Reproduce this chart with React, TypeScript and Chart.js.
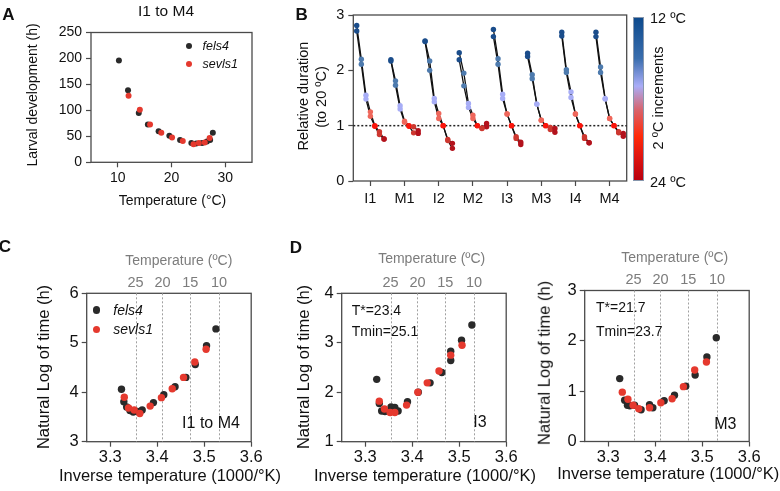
import React, { useEffect, useRef } from 'react';
import { Chart, registerables } from 'chart.js';

Chart.register(...registerables);

const FONT = '"Liberation Sans", Arial, Helvetica, sans-serif';
const AXIS = '#4a4a4a';
const BLACK_PT = '#2a2a2a';
const RED_PT = '#e5392e';

// ---------- Panel A: larval development (h) vs temperature (°C), I1 to M4 ----------
const aFels4Temp = [10.2, 11.9, 13.9, 15.6, 17.6, 19.6, 21.6, 23.7, 24.6, 25.7, 26.6, 27.2, 27.7];
const aFels4Hours = [196, 139, 95, 73, 60, 51, 43, 37, 36, 37, 40, 43, 57];
const aSevls1Temp = [12.0, 14.1, 16.0, 18.1, 20.1, 22.1, 24.1, 25.1, 26.2, 27.1];
const aSevls1Hours = [128, 101, 73, 57, 48, 41, 35, 37, 38, 47];
const aXTicks = [10, 20, 30];

// ---------- Panel B: relative duration (to 20 °C) per stage ----------
const bStages = ['I1', 'M1', 'I2', 'M2', 'I3', 'M3', 'I4', 'M4'];
const bTemps = [12, 14, 16, 18, 20, 22, 24];
const bTempColors = ['#1b4d8b', '#4e7bae', '#a7adf6', '#ef675b', '#fb150b', '#cd3830', '#b3121c'];
const bRep1 = [
  [2.81, 2.2, 1.55, 1.25, 1.0, 0.89, 0.76],
  [2.19, 1.81, 1.36, 1.08, 1.0, 0.98, 0.91],
  [2.53, 2.17, 1.49, 1.22, 1.0, 0.75, 0.68],
  [2.32, 1.95, 1.4, 1.19, 1.0, 0.96, 1.04],
  [2.74, 2.21, 1.57, 1.21, 1.0, 0.8, 0.7],
  [2.31, 1.92, 1.39, 1.1, 1.0, 0.97, 0.95],
  [2.69, 2.01, 1.61, 1.21, 1.0, 0.8, 0.69],
  [2.69, 2.06, 1.49, 1.13, 1.0, 0.89, 0.86],
];
const bRep2 = [
  [2.71, 2.11, 1.48, 1.17, 0.99, 0.84, 0.76],
  [2.17, 1.73, 1.3, 1.06, 0.99, 0.87, 0.86],
  [2.52, 2.0, 1.43, 1.13, 1.0, 0.73, 0.59],
  [2.19, 1.72, 1.33, 1.13, 1.0, 0.95, 0.98],
  [2.61, 2.11, 1.49, 1.21, 1.0, 0.77, 0.66],
  [2.25, 1.85, 1.39, 1.1, 1.0, 0.93, 0.88],
  [2.62, 1.96, 1.51, 1.21, 1.0, 0.77, 0.69],
  [2.61, 1.96, 1.48, 1.13, 1.0, 0.87, 0.81],
];
const bYTicks = [0, 1, 2, 3];

// ---------- Panel C: ln(time) vs inverse temperature, I1 to M4 ----------
const cFels4X = [3.324, 3.329, 3.335, 3.342, 3.349, 3.358, 3.368, 3.392, 3.414, 3.438, 3.461, 3.481, 3.505, 3.525];
const cFels4Y = [4.06, 3.81, 3.7, 3.63, 3.6, 3.61, 3.64, 3.79, 3.95, 4.11, 4.3, 4.56, 4.94, 5.28];
const cSevls1X = [3.33, 3.339, 3.351, 3.363, 3.385, 3.409, 3.432, 3.456, 3.48, 3.504];
const cSevls1Y = [3.9, 3.68, 3.64, 3.57, 3.72, 3.89, 4.07, 4.3, 4.61, 4.87];

// ---------- Panel D (left): I3 ----------
const dI3Fels4X = [3.3245, 3.33, 3.335, 3.342, 3.355, 3.363, 3.37, 3.39, 3.413, 3.438, 3.463, 3.482, 3.482, 3.505, 3.527];
const dI3Fels4Y = [2.26, 1.77, 1.62, 1.61, 1.7, 1.69, 1.62, 1.81, 2.0, 2.19, 2.4, 2.83, 2.64, 3.05, 3.36];
const dI3Sevls1X = [3.33, 3.341, 3.353, 3.363, 3.388, 3.412, 3.432, 3.457, 3.482, 3.506];
const dI3Sevls1Y = [1.82, 1.66, 1.59, 1.59, 1.74, 2.0, 2.19, 2.43, 2.75, 2.95];

// ---------- Panel D (right): M3 ----------
const dM3Fels4X = [3.3245, 3.335, 3.341, 3.346, 3.356, 3.37, 3.388, 3.395, 3.419, 3.441, 3.465, 3.485, 3.51, 3.53];
const dM3Fels4Y = [1.25, 0.82, 0.72, 0.71, 0.72, 0.63, 0.73, 0.67, 0.81, 0.92, 1.1, 1.32, 1.68, 2.06];
const dM3Sevls1X = [3.33, 3.342, 3.353, 3.365, 3.388, 3.412, 3.436, 3.46, 3.484, 3.509];
const dM3Sevls1Y = [0.98, 0.84, 0.72, 0.65, 0.67, 0.77, 0.85, 1.09, 1.42, 1.58];

const invXTicks = [3.3, 3.4, 3.5, 3.6];
const topTemps = [25, 20, 15, 10];

// ---------- layout (page pixels) ----------
const W = 780;
const H = 491;
type Area = { l: number; t: number; r: number; b: number };
const areaA: Area = { l: 91, t: 32.5, r: 252, b: 162.3 };
const areaB: Area = { l: 353.3, t: 15, r: 626.7, b: 181 };
const areaC: Area = { l: 86.7, t: 293.3, r: 251.2, b: 441.7 };
const areaD1: Area = { l: 341.7, t: 293.3, r: 506.2, b: 441.7 };
const areaD2: Area = { l: 584.7, t: 290.5, r: 749.2, b: 441.5 };
const bOffsets = [-0.4, -0.265, -0.13, 0, 0.13, 0.265, 0.4];

const zip = (xs: number[], ys: number[]) => xs.map((x, i) => ({ x, y: ys[i] }));
const invT = (t: number) => 1000 / (t + 273.15);

const boxPlugin = {
  id: 'box',
  beforeDatasetsDraw(chart: any) {
    const { ctx, chartArea: a } = chart;
    ctx.save();
    ctx.strokeStyle = AXIS;
    ctx.lineWidth = 1.3;
    ctx.strokeRect(a.left, a.top, a.right - a.left, a.bottom - a.top);
    ctx.restore();
  },
};

const tempLinesPlugin = {
  id: 'tempLines',
  beforeDatasetsDraw(chart: any) {
    const { ctx, chartArea: a, scales } = chart;
    ctx.save();
    ctx.strokeStyle = '#a0a0a0';
    ctx.lineWidth = 1;
    ctx.setLineDash([2, 2]);
    topTemps.forEach((t) => {
      const x = Math.round(scales.x.getPixelForValue(invT(t))) + 0.5;
      ctx.beginPath();
      ctx.moveTo(x, a.top);
      ctx.lineTo(x, a.bottom);
      ctx.stroke();
    });
    ctx.restore();
  },
};

const refLinePlugin = {
  id: 'refLine',
  beforeDatasetsDraw(chart: any) {
    const { ctx, chartArea: a, scales } = chart;
    const y = scales.y.getPixelForValue(1);
    ctx.save();
    ctx.strokeStyle = '#222';
    ctx.lineWidth = 1.5;
    ctx.setLineDash([2, 2]);
    ctx.beginPath();
    ctx.moveTo(a.left, y);
    ctx.lineTo(a.right, y);
    ctx.stroke();
    ctx.restore();
  },
};

function axisBase(size: number, pad: number) {
  return {
    border: { display: false },
    grid: {
      display: true,
      drawOnChartArea: false,
      drawTicks: true,
      tickLength: 5,
      tickColor: AXIS,
      tickWidth: 1.2,
    },
    ticks: {
      color: '#111',
      font: { family: FONT, size },
      padding: pad,
      autoSkip: false,
      maxRotation: 0,
    },
  };
}

function baseOptions(area: Area, hasTop: boolean) {
  return {
    responsive: false,
    maintainAspectRatio: false,
    animation: false,
    devicePixelRatio: 1,
    events: [],
    layout: { padding: { left: 0, top: hasTop ? 0 : area.t, right: W - area.r, bottom: 0 } },
    plugins: { legend: { display: false }, tooltip: { enabled: false }, title: { display: false } },
  };
}

function pointSet(data: any[], color: string, radius: number, order: number) {
  return {
    data,
    showLine: false,
    pointRadius: radius,
    pointBackgroundColor: color,
    pointBorderWidth: 0,
    pointBorderColor: color,
    order,
  };
}

function configA() {
  const base = axisBase(14, 2);
  return {
    type: 'scatter',
    data: {
      datasets: [
        pointSet(zip(aFels4Temp, aFels4Hours), BLACK_PT, 3, 2),
        pointSet(zip(aSevls1Temp, aSevls1Hours), RED_PT, 3, 1),
      ],
    },
    options: {
      ...baseOptions(areaA, false),
      scales: {
        x: {
          ...base,
          type: 'linear',
          min: 5,
          max: 35,
          afterBuildTicks: (s: any) => {
            s.ticks = aXTicks.map((v) => ({ value: v }));
          },
          afterFit: (s: any) => {
            s.height = H - areaA.b;
          },
        },
        y: {
          ...base,
          type: 'linear',
          min: 0,
          max: 250,
          ticks: { ...base.ticks, stepSize: 50, padding: 4 },
          afterFit: (s: any) => {
            s.width = areaA.l;
          },
        },
      },
    },
    plugins: [boxPlugin],
  };
}

function configB() {
  const base = axisBase(14.5, 4);
  const datasets: any[] = [];
  [bRep1, bRep2].forEach((rep) =>
    rep.forEach((vals, si) => {
      const pts = vals.map((v, k) => ({ x: si + bOffsets[k], y: v }));
      datasets.push({
        data: pts,
        showLine: true,
        borderColor: '#111',
        borderWidth: 1.3,
        pointRadius: 0,
        order: 2,
      });
      datasets.push({
        data: pts,
        showLine: false,
        pointRadius: 2.7,
        pointBackgroundColor: bTempColors,
        pointBorderColor: bTempColors,
        pointBorderWidth: 0,
        order: 1,
      });
    })
  );
  return {
    type: 'scatter',
    data: { datasets },
    options: {
      ...baseOptions(areaB, false),
      scales: {
        x: {
          ...base,
          type: 'linear',
          min: -0.5,
          max: bStages.length - 0.5,
          afterBuildTicks: (s: any) => {
            s.ticks = bStages.map((_, i) => ({ value: i }));
          },
          ticks: { ...base.ticks, callback: (_v: any, i: number) => bStages[i] },
          afterFit: (s: any) => {
            s.height = H - areaB.b;
          },
        },
        y: {
          ...base,
          type: 'linear',
          min: 0,
          max: 3,
          afterBuildTicks: (s: any) => {
            s.ticks = bYTicks.map((v) => ({ value: v }));
          },
          afterFit: (s: any) => {
            s.width = areaB.l;
          },
        },
      },
    },
    plugins: [boxPlugin, refLinePlugin],
  };
}

function configInv(area: Area, fx: number[], fy: number[], sx: number[], sy: number[], yMin: number, yMax: number) {
  const base = axisBase(16.5, 1);
  return {
    type: 'scatter',
    data: {
      datasets: [pointSet(zip(fx, fy), BLACK_PT, 3.7, 2), pointSet(zip(sx, sy), RED_PT, 3.7, 1)],
    },
    options: {
      ...baseOptions(area, true),
      scales: {
        x: {
          ...base,
          type: 'linear',
          min: 3.25,
          max: 3.6,
          afterBuildTicks: (s: any) => {
            s.ticks = invXTicks.map((v) => ({ value: v }));
          },
          ticks: { ...base.ticks, callback: (v: any) => Number(v).toFixed(1) },
          afterFit: (s: any) => {
            s.height = H - area.b;
          },
        },
        x2: {
          type: 'linear',
          position: 'top',
          min: 3.25,
          max: 3.6,
          border: { display: false },
          grid: { display: false, drawTicks: false },
          afterBuildTicks: (s: any) => {
            s.ticks = topTemps.map((t) => ({ value: invT(t) }));
          },
          ticks: {
            color: '#7c7c7c',
            font: { family: FONT, size: 14.5 },
            padding: 2,
            autoSkip: false,
            maxRotation: 0,
            callback: (_v: any, i: number) => String(topTemps[i]),
          },
          afterFit: (s: any) => {
            s.height = area.t;
          },
        },
        y: {
          ...base,
          type: 'linear',
          min: yMin,
          max: yMax,
          ticks: { ...base.ticks, stepSize: 1, padding: 3 },
          afterFit: (s: any) => {
            s.width = area.l;
          },
        },
      },
    },
    plugins: [boxPlugin, tempLinesPlugin],
  };
}

function ChartLayer({ make }: { make: () => any }) {
  const ref = useRef<HTMLCanvasElement>(null);
  useEffect(() => {
    const chart = new Chart(ref.current as HTMLCanvasElement, make());
    return () => chart.destroy();
  }, []);
  return (
    <canvas
      ref={ref}
      width={W}
      height={H}
      style={{ position: 'absolute', left: 0, top: 0, width: W, height: H }}
    />
  );
}

type TProps = {
  x: number;
  y: number;
  size?: number;
  color?: string;
  bold?: boolean;
  italic?: boolean;
  rotate?: number;
  left?: boolean;
  children: React.ReactNode;
};
function Txt({ x, y, size = 14, color = '#111', bold, italic, rotate, left, children }: TProps) {
  const transform = left
    ? 'translate(0,-50%)'
    : `translate(-50%,-50%)${rotate ? ` rotate(${rotate}deg)` : ''}`;
  return (
    <div
      style={{
        position: 'absolute',
        left: x,
        top: y,
        transform,
        fontFamily: FONT,
        fontSize: size,
        color,
        fontWeight: bold ? 700 : 400,
        fontStyle: italic ? 'italic' : 'normal',
        whiteSpace: 'nowrap',
        lineHeight: 1,
      }}
    >
      {children}
    </div>
  );
}

function Dot({ x, y, r, color }: { x: number; y: number; r: number; color: string }) {
  return (
    <div
      style={{
        position: 'absolute',
        left: x - r,
        top: y - r,
        width: 2 * r,
        height: 2 * r,
        borderRadius: '50%',
        background: color,
      }}
    />
  );
}

export default function App() {
  return (
    <div style={{ position: 'absolute', left: 0, top: 0, width: W, height: H, background: '#fff', overflow: 'hidden' }}>
      <ChartLayer make={configA} />
      <ChartLayer make={configB} />
      <ChartLayer make={() => configInv(areaC, cFels4X, cFels4Y, cSevls1X, cSevls1Y, 3, 6)} />
      <ChartLayer make={() => configInv(areaD1, dI3Fels4X, dI3Fels4Y, dI3Sevls1X, dI3Sevls1Y, 1, 4)} />
      <ChartLayer make={() => configInv(areaD2, dM3Fels4X, dM3Fels4Y, dM3Sevls1X, dM3Sevls1Y, 0, 3)} />

      {/* Panel A */}
      <Txt x={8.5} y={13.5} size={17} bold>A</Txt>
      <Txt x={166} y={11} size={15.5}>I1 to M4</Txt>
      <Txt x={31.5} y={95} size={14} rotate={-90}>Larval development (h)</Txt>
      <Txt x={172.5} y={200} size={14}>Temperature (°C)</Txt>
      <Dot x={189.3} y={45.7} r={3} color={BLACK_PT} />
      <Dot x={189.3} y={64.3} r={3} color={RED_PT} />
      <Txt x={202.5} y={45.7} size={12.5} italic left>fels4</Txt>
      <Txt x={202.5} y={64.3} size={12.5} italic left>sevls1</Txt>

      {/* Panel B */}
      <Txt x={301.7} y={13.5} size={17} bold>B</Txt>
      <Txt x={302.6} y={96} size={14.5} rotate={-90}>Relative duration</Txt>
      <Txt x={321} y={96.5} size={14.5} rotate={-90}>(to 20 ºC)</Txt>
      <div
        style={{
          position: 'absolute',
          left: 633.3,
          top: 16.7,
          width: 11,
          height: 164.3,
          boxSizing: 'border-box',
          border: '1px solid #8797ad',
          background:
            'linear-gradient(to bottom, #0d4a8d 0%, #3a6eae 25%, #a9adf8 42%, #d9626a 57%, #ff2a0a 73%, #e01510 85%, #b8000f 100%)',
        }}
      />
      <Txt x={650} y={18} size={14.5} left>12 ºC</Txt>
      <Txt x={650} y={181.5} size={14.5} left>24 ºC</Txt>
      <Txt x={658.3} y={98.3} size={14.5} rotate={-90}>2 ºC increments</Txt>

      {/* Panel C */}
      <Txt x={5} y={245.5} size={17} bold>C</Txt>
      <Txt x={178.8} y={260} size={14} color="#7c7c7c">Temperature (ºC)</Txt>
      <Txt x={43} y={366.7} size={16.5} rotate={-90}>Natural Log of time (h)</Txt>
      <Txt x={170} y={475} size={16.5}>Inverse temperature (1000/°K)</Txt>
      <Dot x={96.7} y={310} r={3.7} color={BLACK_PT} />
      <Dot x={96.7} y={329.3} r={3.7} color={RED_PT} />
      <Txt x={113.3} y={310} size={14} italic left>fels4</Txt>
      <Txt x={113.3} y={329.3} size={14} italic left>sevls1</Txt>
      <Txt x={211} y={423.3} size={16}>I1 to M4</Txt>

      {/* Panel D left */}
      <Txt x={296} y={246.7} size={17} bold>D</Txt>
      <Txt x={431.7} y={258.3} size={14} color="#7c7c7c">Temperature (ºC)</Txt>
      <Txt x={303} y={366.7} size={16.5} rotate={-90}>Natural Log of time (h)</Txt>
      <Txt x={425} y={475} size={16.5}>Inverse temperature (1000/°K)</Txt>
      <Txt x={351.7} y={310} size={14} left>T*=23.4</Txt>
      <Txt x={351.7} y={331} size={14} left>Tmin=25.1</Txt>
      <Txt x={480} y={421.7} size={16}>I3</Txt>

      {/* Panel D right */}
      <Txt x={674.7} y={256.7} size={14} color="#7c7c7c">Temperature (ºC)</Txt>
      <Txt x={544} y={363} size={16.5} rotate={-90}>Natural Log of time (h)</Txt>
      <Txt x={668.3} y={473.3} size={16.5}>Inverse temperature (1000/°K)</Txt>
      <Txt x={596} y={306.7} size={14} left>T*=21.7</Txt>
      <Txt x={596} y={331} size={14} left>Tmin=23.7</Txt>
      <Txt x={725.3} y={423.7} size={16}>M3</Txt>
    </div>
  );
}
